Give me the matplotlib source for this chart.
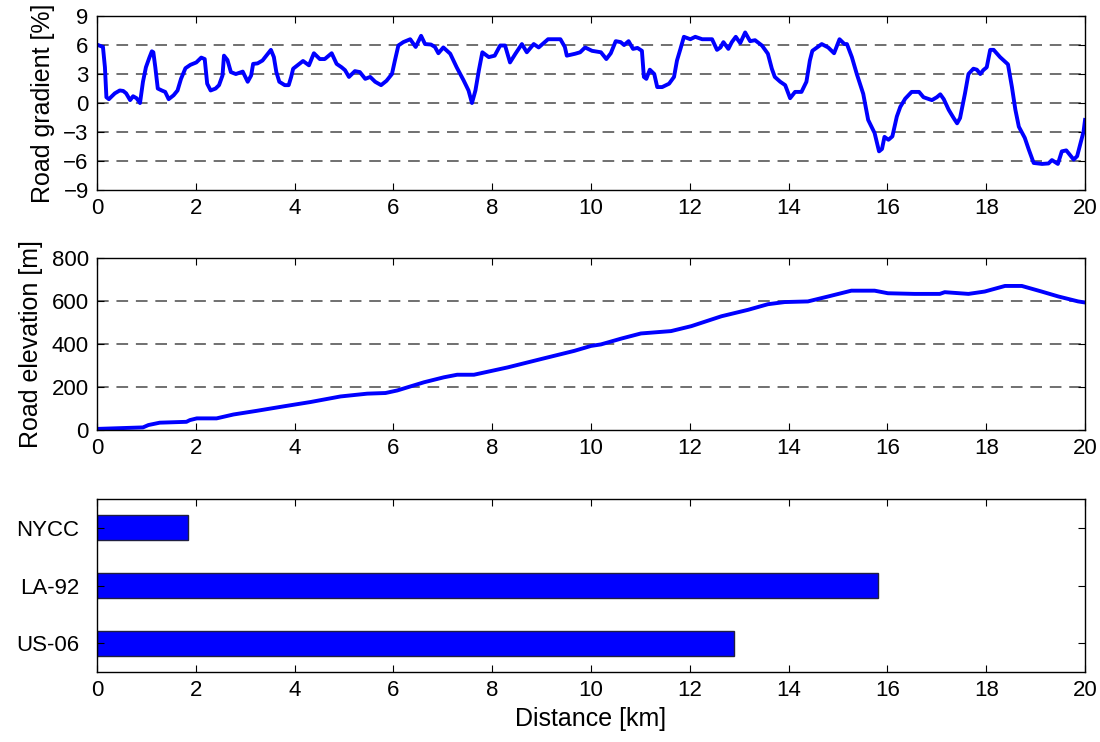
import numpy as np
import matplotlib
matplotlib.use("Agg")
import matplotlib.pyplot as plt

plt.rcParams['font.family'] = ['Liberation Sans', 'DejaVu Sans']

# Road gradient profile along the route [km, %]
grad_km = [0.02, 0.12, 0.16, 0.19, 0.24, 0.36, 0.46, 0.53, 0.59, 0.67, 0.73, 0.80, 0.87, 0.93, 0.99,
           1.06, 1.11, 1.14, 1.18, 1.23, 1.31, 1.38, 1.45, 1.55, 1.63, 1.70, 1.79, 1.89, 2.01, 2.11,
           2.18, 2.23, 2.30, 2.40, 2.47, 2.54, 2.57, 2.64, 2.71, 2.81, 2.95, 3.05, 3.12, 3.16, 3.25,
           3.35, 3.46, 3.52, 3.58, 3.63, 3.69, 3.80, 3.88, 3.93, 3.97, 4.07, 4.17, 4.29, 4.39, 4.51,
           4.61, 4.75, 4.85, 4.95, 5.02, 5.10, 5.22, 5.32, 5.43, 5.53, 5.63, 5.75, 5.86, 5.97, 6.03,
           6.10, 6.20, 6.34, 6.45, 6.56, 6.64, 6.76, 6.84, 6.91, 7.01, 7.15, 7.28, 7.42, 7.52, 7.59,
           7.66, 7.73, 7.80, 7.93, 8.05, 8.16, 8.26, 8.36, 8.47, 8.60, 8.70, 8.84, 8.94, 9.13, 9.38,
           9.47, 9.51, 9.68, 9.78, 9.88, 10.02, 10.20, 10.31, 10.40, 10.50, 10.60, 10.67, 10.76, 10.85,
           10.94, 11.03, 11.07, 11.12, 11.19, 11.28, 11.34, 11.44, 11.58, 11.68, 11.74, 11.81, 11.88,
           12.01, 12.11, 12.25, 12.45, 12.55, 12.62, 12.68, 12.78, 12.85, 12.93, 13.02, 13.12, 13.22,
           13.32, 13.46, 13.58, 13.66, 13.72, 13.83, 13.93, 14.03, 14.13, 14.26, 14.36, 14.43, 14.48,
           14.67, 14.80, 14.92, 15.03, 15.13, 15.18, 15.28, 15.38, 15.51, 15.61, 15.74, 15.83, 15.89,
           15.94, 16.02, 16.10, 16.19, 16.26, 16.36, 16.49, 16.64, 16.73, 16.90, 17.00, 17.07, 17.14,
           17.24, 17.34, 17.41, 17.47, 17.57, 17.64, 17.74, 17.81, 17.88, 17.94, 18.01, 18.08, 18.15,
           18.28, 18.44, 18.52, 18.59, 18.66, 18.78, 18.86, 18.96, 19.13, 19.26, 19.33, 19.45, 19.53,
           19.62, 19.77, 19.84, 19.91, 19.97, 20.0]
grad_pct = [6.0, 5.8, 3.7, 0.6, 0.4, 1.0, 1.3, 1.25, 1.0, 0.3, 0.7, 0.5, 0.0, 2.2, 3.7,
            4.7, 5.35, 5.25, 3.7, 1.5, 1.3, 1.15, 0.4, 0.8, 1.3, 2.5, 3.6, 3.95, 4.2, 4.7,
            4.55, 2.0, 1.3, 1.5, 1.85, 2.85, 4.9, 4.45, 3.2, 3.0, 3.25, 2.2, 2.85, 4.05, 4.1,
            4.4, 5.1, 5.5, 4.75, 3.2, 2.2, 1.85, 1.85, 2.7, 3.55, 3.95, 4.35, 3.9, 5.15, 4.55,
            4.55, 5.15, 4.05, 3.7, 3.4, 2.7, 3.3, 3.2, 2.5, 2.7, 2.2, 1.85, 2.3, 3.0, 4.4,
            5.95, 6.3, 6.6, 5.8, 6.95, 6.1, 6.05, 5.8, 5.15, 5.75, 5.1, 3.7, 2.35, 1.3, 0.0,
            1.3, 3.4, 5.25, 4.75, 4.9, 5.95, 5.95, 4.2, 5.1, 6.1, 5.25, 6.1, 5.75, 6.6, 6.6,
            5.8, 4.9, 5.1, 5.25, 5.75, 5.4, 5.25, 4.55, 5.15, 6.4, 6.3, 6.0, 6.4, 5.6,
            5.7, 5.4, 2.7, 2.5, 3.45, 3.0, 1.65, 1.65, 2.0, 2.7, 4.4, 5.6, 6.85,
            6.6, 6.85, 6.6, 6.6, 5.5, 5.75, 6.3, 5.6, 6.3, 6.85, 6.2, 7.3, 6.4,
            6.5, 5.95, 5.1, 3.55, 2.7, 2.2, 1.85, 0.5, 1.15, 1.15, 2.2, 4.4, 5.4,
            6.1, 5.75, 5.15, 6.6, 6.1, 6.1, 4.75, 3.0, 0.95, -1.75, -3.1, -5.0, -4.75,
            -3.5, -3.8, -3.45, -1.4, -0.4, 0.45, 1.15, 1.15, 0.6, 0.3, 0.6, 0.9, 0.4,
            -0.7, -1.55, -2.1, -1.55, 1.0, 3.0, 3.55, 3.45, 3.0, 3.4, 3.7, 5.5, 5.5,
            4.75, 4.0, 1.65, -0.7, -2.45, -3.6, -4.8, -6.2, -6.3, -6.25, -5.9, -6.3, -5.0,
            -4.9, -5.85, -5.5, -4.15, -2.95, -1.75]

# Road elevation profile [km, m]
elev_km = [0.0, 0.93, 1.04, 1.27, 1.81, 1.88, 2.02, 2.42, 2.76, 3.23, 3.78, 4.32, 4.93, 5.47,
           5.84, 6.08, 6.62, 7.02, 7.29, 7.63, 8.31, 8.99, 9.66, 10.0, 10.2, 10.61, 11.01, 11.62,
           12.03, 12.64, 13.18, 13.58, 13.92, 14.39, 14.80, 15.27, 15.74, 16.01, 16.55, 17.06,
           17.16, 17.64, 17.97, 18.38, 18.72, 19.12, 19.46, 19.86, 20.0]
elev_m = [5, 12, 23, 34, 38, 46, 54, 54, 72, 89, 110, 130, 156, 169,
          172, 184, 222, 245, 257, 257, 291, 330, 368, 391, 398, 425, 449, 460,
          483, 529, 559, 585, 595, 598, 621, 648, 648, 636, 633, 633,
          641, 633, 644, 670, 670, 644, 621, 598, 593]

# Total distance of each drive cycle [km]
cycles = ['US-06', 'LA-92', 'NYCC']
cycle_km = [12.9, 15.8, 1.85]

fig = plt.figure(figsize=(11, 7.42), dpi=100)
ax1 = fig.add_axes([0.0882, 0.7439, 0.8982, 0.2345])
ax2 = fig.add_axes([0.0882, 0.4205, 0.8982, 0.2318])
ax3 = fig.add_axes([0.0882, 0.0943, 0.8982, 0.2332])

line_kw = dict(color=(0, 0, 1), lw=2.8)
grid_kw = dict(color='#707070', ls=(0, (6, 4)), lw=1.4)

ax1.plot(grad_km, grad_pct, **line_kw)
ax1.set_ylim(-9, 9)
ax1.set_yticks(np.arange(-9, 10, 3))
ax1.set_ylabel('Road gradient [%]', fontsize=18, labelpad=6)

ax2.plot(elev_km, elev_m, **line_kw)
ax2.set_ylim(0, 800)
ax2.set_yticks(np.arange(0, 801, 200))
ax2.set_ylabel('Road elevation [m]', fontsize=18, labelpad=6)

# dashed horizontal grid, skipping the lines that sit on the frame
for ax in (ax1, ax2):
    ax.yaxis.grid(True, **grid_kw)
    ax.set_axisbelow(True)
    lo, hi = ax.get_ylim()
    for val, gl in zip(ax.get_yticks(), ax.get_ygridlines()):
        if val <= lo or val >= hi:
            gl.set_visible(False)

ax3.barh(range(1, len(cycles) + 1), cycle_km, height=0.43, color=(0, 0, 1),
         edgecolor='#202040', lw=1.0)
ax3.set_ylim(0.5, 3.5)
ax3.set_yticks(range(1, len(cycles) + 1))
ax3.set_yticklabels(cycles)
ax3.set_xlabel('Distance [km]', fontsize=18)

for ax in (ax1, ax2, ax3):
    ax.set_xlim(0, 20)
    ax.set_xticks(np.arange(0, 21, 2))
    ax.tick_params(direction='in', top=True, right=True, length=5, width=0.8,
                   labelsize=16, pad=6)
    for sp in ax.spines.values():
        sp.set_linewidth(1.0)
ax3.tick_params(axis='y', pad=13)

fig.align_ylabels([ax1, ax2])
fig.savefig('out.png', dpi=100)
